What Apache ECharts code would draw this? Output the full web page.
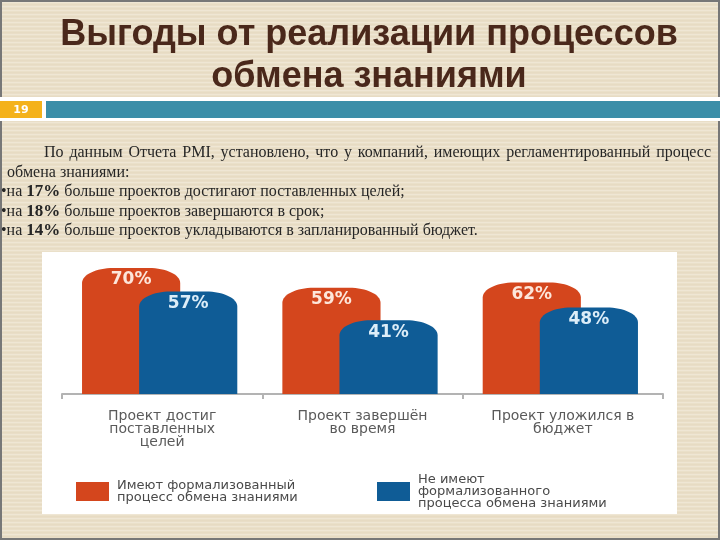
<!DOCTYPE html>
<html>
<head>
<meta charset="utf-8">
<script src="https://cdn.jsdelivr.net/npm/echarts@6/dist/echarts.min.js"></script>
<style>html,body{margin:0;padding:0;}#c{width:720px;height:540px;}</style>
</head>
<body>
<div id="c"></div>
<script>
// ---- data ----
const categories = ['Проект достиг\nпоставленных\nцелей', 'Проект завершён\nво время', 'Проект уложился в\nбюджет'];
const withProcess = [70, 59, 62];
const withoutProcess = [57, 41, 48];
const seriesNames = ['Имеют формализованный\nпроцесс обмена знаниями', 'Не имеют\nформализованного\nпроцесса обмена знаниями'];
const titleText = 'Выгоды от реализации процессов\nобмена знаниями';
const introWords = 'По данным Отчета PMI, установлено, что у компаний, имеющих регламентированный процесс';
const introLine2 = 'обмена знаниями:';
const bulletPct = ['17%', '18%', '14%'];
const bulletText = ['больше проектов достигают поставленных целей;', 'больше проектов завершаются в срок;', 'больше проектов укладываются в запланированный бюджет.'];
const slideNumber = '19';

// ---- helpers ----
const ORANGE = '#d4461d', BLUE = '#0f5c96';
function stripes() {
  const cv = document.createElement('canvas');
  cv.width = 4; cv.height = 4;
  const ctx = cv.getContext('2d');
  const rows = ['#e7dbc3', '#e9dec7', '#efe6d4', '#eae0c9'];
  rows.forEach((c, i) => { ctx.fillStyle = c; ctx.fillRect(0, i, 4, 1); });
  return cv;
}
const serif = '"Liberation Serif", "Times New Roman", serif';
const FS = 16;
const mctx = document.createElement('canvas').getContext('2d');
mctx.font = FS + 'px ' + serif;
const words = introWords.split(' ');
let wsum = 0; words.forEach(w => wsum += mctx.measureText(w).width);
const lineStart = 44, lineEnd = 711;
const gapW = Math.max(3, (lineEnd - lineStart - wsum) / (words.length - 1));
const introRich = words.join('{g| }');

function makeRender(offsetFrac, color, labelColor) {
  return function (params, api) {
    const ci = api.value(0), v = api.value(1);
    const base = api.coord([ci, 0]);
    const top = api.coord([ci, v]);
    const band = api.size([1, 0])[0];
    const w = band * 0.49;
    const cx = base[0] + band * offsetFrac;
    const l = cx - w / 2, r = cx + w / 2, t = top[1], b = base[1];
    const rx = w * 0.32, ry = 15, k = 0.5523;
    const d = 'M' + l + ',' + b +
      ' L' + l + ',' + (t + ry) +
      ' C' + l + ',' + (t + ry - ry * k) + ' ' + (l + rx - rx * k) + ',' + t + ' ' + (l + rx) + ',' + t +
      ' L' + (r - rx) + ',' + t +
      ' C' + (r - rx + rx * k) + ',' + t + ' ' + r + ',' + (t + ry - ry * k) + ' ' + r + ',' + (t + ry) +
      ' L' + r + ',' + b + ' Z';
    return {
      type: 'group',
      children: [
        { type: 'path', shape: { pathData: d }, style: { fill: color } },
        { type: 'text', style: { text: v + '%', x: cx, y: t + 12, align: 'center', verticalAlign: 'middle',
            fill: labelColor, font: 'bold 17px "DejaVu Sans"' } }
      ]
    };
  };
}

const chart = echarts.init(document.getElementById('c'), null, { renderer: 'canvas' });
const legendCommon = {
  orient: 'horizontal', icon: 'rect', itemWidth: 33, itemHeight: 19, padding: 0, selectedMode: false,
  textStyle: { color: '#4a4a4a', fontSize: 13, lineHeight: 12, fontFamily: 'DejaVu Sans' }
};
chart.setOption({
  backgroundColor: '#e9dec8',
  animation: false,
  title: {
    text: titleText, left: 369, top: 14, textAlign: 'center', padding: 0,
    textStyle: { color: '#4a281b', fontSize: 36, fontWeight: 'bold', lineHeight: 42, fontFamily: '"Liberation Sans", Arial, sans-serif' }
  },
  grid: { left: 62, right: 57, top: 214, bottom: 146 },
  xAxis: {
    type: 'category', data: categories, offset: 8,
    axisLine: { lineStyle: { color: '#b3b3b3', width: 2 } },
    axisTick: { show: true, length: 5, lineStyle: { color: '#b3b3b3', width: 2 } },
    axisLabel: { margin: 8, color: '#5a5a5a', fontSize: 14, lineHeight: 13, fontFamily: 'DejaVu Sans' }
  },
  yAxis: { type: 'value', min: 0, max: 100, show: false, splitLine: { show: false } },
  legend: [
    Object.assign({}, legendCommon, { left: 76, top: 476,
      data: [{ name: seriesNames[0], textStyle: { padding: [0, 0, 7, 3] } }] }),
    Object.assign({}, legendCommon, { left: 377, top: 472,
      data: [{ name: seriesNames[1], textStyle: { padding: [3, 0, 0, 3] } }] })
  ],
  graphic: [
    { type: 'rect', z: -20, silent: true, shape: { x: 0, y: 0, width: 720, height: 540 },
      style: { fill: { image: stripes(), repeat: 'repeat' } } },
    { type: 'rect', z: -19, silent: true, shape: { x: 1, y: 1, width: 718, height: 538 },
      style: { fill: 'none', stroke: '#777', lineWidth: 2 } },
    { type: 'rect', z: -18, silent: true, shape: { x: 0, y: 97, width: 720, height: 24 }, style: { fill: '#ffffff' } },
    { type: 'rect', z: -17, silent: true, shape: { x: 0, y: 101, width: 42, height: 17 }, style: { fill: '#f4b21b' } },
    { type: 'rect', z: -17, silent: true, shape: { x: 46, y: 101, width: 674, height: 17 }, style: { fill: '#3b8ea8' } },
    { type: 'text', z: -16, silent: true, style: { text: slideNumber, x: 21, y: 110, align: 'center', verticalAlign: 'middle',
        fill: '#ffffff', font: 'bold 11px "DejaVu Sans"' } },
    { type: 'text', silent: true, style: { text: introRich, x: lineStart, y: 153, verticalAlign: 'middle',
        fill: '#262626', font: FS + 'px ' + serif, rich: { g: { width: gapW, font: FS + 'px ' + serif } } } },
    { type: 'text', silent: true, style: { text: introLine2, x: 7, y: 172.5, verticalAlign: 'middle',
        fill: '#262626', font: FS + 'px ' + serif } },
    ...bulletPct.map((p, i) => ({
      type: 'text', silent: true,
      style: { text: '•на {b|' + p + '} ' + bulletText[i], x: 1, y: 192 + i * 19.5, verticalAlign: 'middle',
        fill: '#262626', font: FS + 'px ' + serif,
        rich: { b: { fontWeight: 'bold', fontSize: FS + 1, fontFamily: serif, fill: '#262626' } } }
    })),
    { type: 'rect', z: -15, silent: true, shape: { x: 42, y: 252, width: 635, height: 262 }, style: { fill: '#ffffff' } }
  ],
  series: [
    { type: 'custom', name: seriesNames[0], itemStyle: { color: ORANGE }, encode: { x: 0, y: 1 },
      renderItem: makeRender(-0.155, ORANGE, '#fde6da'), data: withProcess.map((v, i) => [i, v]) },
    { type: 'custom', name: seriesNames[1], itemStyle: { color: BLUE }, encode: { x: 0, y: 1 },
      renderItem: makeRender(0.13, BLUE, '#dcedf8'), data: withoutProcess.map((v, i) => [i, v]) }
  ]
});
</script>
</body>
</html>
